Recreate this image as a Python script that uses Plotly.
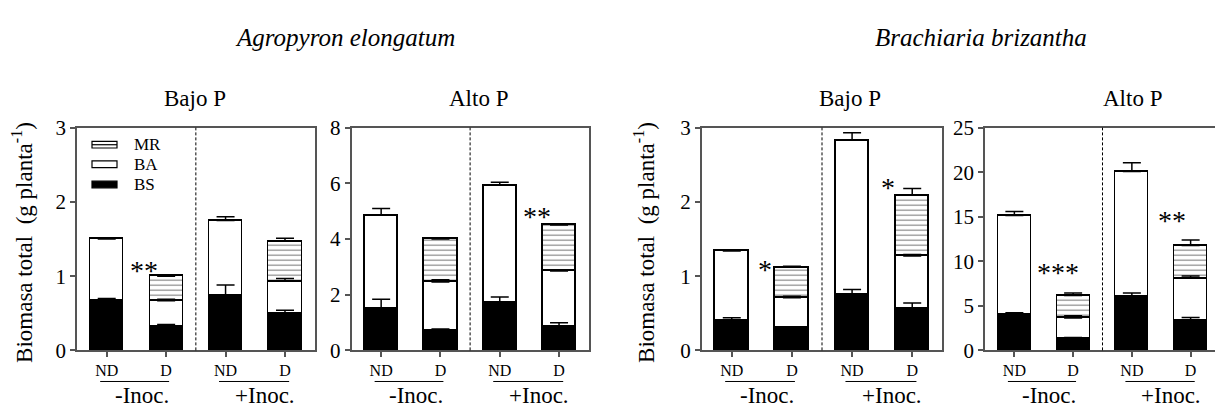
import numpy as np
import plotly.graph_objects as go

W, H = 1215, 418
FONT = "Times New Roman, Liberation Serif, DejaVu Serif, serif"

# Bar positions within each panel: ND / D for -Inoc. and +Inoc.
positions = [0, 1, 2, 3]
tick_labels = ["ND", "D", "ND", "D"]
inoc_labels = ["-Inoc.", "+Inoc."]
species_titles = ["Agropyron elongatum", "Brachiaria brizantha"]
panel_titles = ["Bajo P", "Alto P", "Bajo P", "Alto P"]

# Agropyron elongatum, Bajo P (g planta-1): BS, BA, MR segment means and SE
agro_bajo_bs = [0.67, 0.32, 0.74, 0.49]
agro_bajo_bs_se = [0.03, 0.03, 0.14, 0.05]
agro_bajo_ba = [0.83, 0.35, 1.01, 0.44]
agro_bajo_ba_se = [0.01, 0.02, 0.05, 0.04]
agro_bajo_mr = [None, 0.33, None, 0.54]
agro_bajo_mr_se = [None, 0.01, None, 0.04]

# Agropyron elongatum, Alto P
agro_alto_bs = [1.50, 0.70, 1.72, 0.86]
agro_alto_bs_se = [0.34, 0.07, 0.20, 0.13]
agro_alto_ba = [3.35, 1.76, 4.21, 1.99]
agro_alto_ba_se = [0.25, 0.08, 0.11, 0.05]
agro_alto_mr = [None, 1.54, None, 1.65]
agro_alto_mr_se = [None, 0.03, None, 0.04]

# Brachiaria brizantha, Bajo P
brach_bajo_bs = [0.40, 0.31, 0.75, 0.56]
brach_bajo_bs_se = [0.04, 0.005, 0.07, 0.08]
brach_bajo_ba = [0.94, 0.40, 2.08, 0.71]
brach_bajo_ba_se = [0.01, 0.02, 0.10, 0.02]
brach_bajo_mr = [None, 0.41, None, 0.82]
brach_bajo_mr_se = [None, 0.015, None, 0.09]

# Brachiaria brizantha, Alto P
brach_alto_bs = [3.98, 1.34, 5.99, 3.31]
brach_alto_bs_se = [0.25, 0.10, 0.45, 0.39]
brach_alto_ba = [11.16, 2.29, 14.08, 4.79]
brach_alto_ba_se = [0.46, 0.27, 0.99, 0.25]
brach_alto_mr = [None, 2.53, None, 3.66]
brach_alto_mr_se = [None, 0.28, None, 0.63]

# Significance marks: (panel, x position, y value, text)
sig_marks = [
    (0, 0.62, 1.17, "**"),
    (1, 2.62, 5.05, "**"),
    (2, 0.56, 1.18, "*"),
    (2, 2.60, 2.29, "*"),
    (3, 0.75, 9.5, "***"),
    (3, 2.69, 15.35, "**"),
]

panels = [
    (agro_bajo_bs, agro_bajo_bs_se, agro_bajo_ba, agro_bajo_ba_se, agro_bajo_mr, agro_bajo_mr_se),
    (agro_alto_bs, agro_alto_bs_se, agro_alto_ba, agro_alto_ba_se, agro_alto_mr, agro_alto_mr_se),
    (brach_bajo_bs, brach_bajo_bs_se, brach_bajo_ba, brach_bajo_ba_se, brach_bajo_mr, brach_bajo_mr_se),
    (brach_alto_bs, brach_alto_bs_se, brach_alto_ba, brach_alto_ba_se, brach_alto_mr, brach_alto_mr_se),
]
y_max = [3, 8, 3, 25]
y_dtick = [1, 2, 1, 5]

# Layout geometry in pixels
x_px = [(77, 314.7), (351.5, 588.7), (701.7, 942.3), (985, 1215)]
x_range_end = [3.5, 3.5, 3.5, 3.415]
plot_top, plot_bottom = 122.7, 359


def px(x):
    return x / W


def py(y):
    return 1 - y / H


def to_arr(v):
    return np.array([np.nan if a is None else a for a in v], dtype=float)


fig = go.Figure()
LINE = "#555555"

for i, (bs, bs_se, ba, ba_se, mr, mr_se) in enumerate(panels):
    xa = "x" if i == 0 else f"x{i + 1}"
    ya = "y" if i == 0 else f"y{i + 1}"

    fig.add_trace(go.Bar(x=positions, y=bs, width=0.56, xaxis=xa, yaxis=ya,
                         marker=dict(color="black", line=dict(color="black", width=1.5)),
                         showlegend=False, hoverinfo="skip"))
    fig.add_trace(go.Bar(x=positions, y=ba, width=0.56, xaxis=xa, yaxis=ya,
                         marker=dict(color="white", line=dict(color="black", width=1.5)),
                         showlegend=False, hoverinfo="skip"))
    fig.add_trace(go.Bar(x=positions, y=mr, width=0.56, xaxis=xa, yaxis=ya,
                         marker=dict(color="white", line=dict(color="black", width=1.5),
                                     pattern=dict(shape="-", fgcolor="black", bgcolor="white",
                                                  size=5, solidity=0.22)),
                         showlegend=False, hoverinfo="skip"))

    # upward error bars at the top of each stacked segment
    bs_a, ba_a, mr_a = to_arr(bs), to_arr(ba), to_arr(mr)
    tops = [bs_a, bs_a + ba_a, bs_a + ba_a + mr_a]
    errs = [to_arr(bs_se), to_arr(ba_se), to_arr(mr_se)]
    for top, err in zip(tops, errs):
        fig.add_trace(go.Scatter(
            x=positions, y=top, xaxis=xa, yaxis=ya, mode="markers",
            marker=dict(size=1, opacity=0), showlegend=False, hoverinfo="skip",
            error_y=dict(type="data", array=err, arrayminus=np.zeros(4), symmetric=False,
                         width=9, thickness=1.5, color="black")))

    x0, x1 = x_px[i]
    axis_common = dict(showline=True, linecolor=LINE, linewidth=1.5, showgrid=False,
                       zeroline=False, ticks="outside", tickcolor=LINE, tickwidth=1.5,
                       ticklen=5, fixedrange=True)
    fig.update_layout({
        ("xaxis" if i == 0 else f"xaxis{i + 1}"): dict(
            domain=[px(x0), px(x1)], range=[-0.5, x_range_end[i]], anchor=ya,
            tickvals=positions, ticktext=tick_labels, mirror=True,
            tickfont=dict(family=FONT, size=16, color="black"), **axis_common),
        ("yaxis" if i == 0 else f"yaxis{i + 1}"): dict(
            domain=[py(plot_bottom), py(plot_top)], range=[0, y_max[i]], dtick=y_dtick[i],
            anchor=xa, mirror=(i != 3),
            tickfont=dict(family=FONT, size=21, color="black"), **axis_common),
    })

    # dashed separator between -Inoc. and +Inoc.
    fig.add_shape(type="line", xref=xa, yref=f"{ya} domain", x0=1.5, x1=1.5, y0=0, y1=1,
                  line=dict(color="black", width=1, dash="3px,2px"))
    # group underlines and labels
    for (a, b), lab, lx in zip([(-0.11, 1.05), (1.89, 3.07)], inoc_labels, [0.59, 2.66]):
        fig.add_shape(type="line", xref=xa, yref="paper", x0=a, x1=b, y0=py(392), y1=py(392),
                      line=dict(color="black", width=1))
        fig.add_annotation(xref=xa, yref="paper", x=lx, y=py(407), text=lab, showarrow=False,
                           font=dict(family=FONT, size=23, color="black"),
                           xanchor="center", yanchor="middle")

# panel titles
for x, t in zip([195, 478, 850, 1132], panel_titles):
    fig.add_annotation(xref="paper", yref="paper", x=px(x), y=py(92), text=t, showarrow=False,
                       xanchor="center", yanchor="middle",
                       font=dict(family=FONT, size=23, color="black"))
# species titles
for x, t in zip([345, 981], species_titles):
    fig.add_annotation(xref="paper", yref="paper", x=px(x), y=py(27), text=f"<i>{t}</i>",
                       showarrow=False, xanchor="center", yanchor="middle",
                       font=dict(family=FONT, size=25, color="black"))
# y-axis titles
for x in [23, 645]:
    fig.add_annotation(xref="paper", yref="paper", x=px(x), y=py(245), textangle=-90,
                       text="Biomasa total  (g planta<sup>-1</sup>)", showarrow=False,
                       xanchor="center", yanchor="middle",
                       font=dict(family=FONT, size=23, color="black"))

# significance marks
for p, x, y, t in sig_marks:
    xa = "x" if p == 0 else f"x{p + 1}"
    ya = "y" if p == 0 else f"y{p + 1}"
    fig.add_annotation(xref=xa, yref=ya, x=x, y=y, text=t, showarrow=False,
                       xanchor="center", yanchor="middle",
                       font=dict(family=FONT, size=28, color="black"), yshift=-7)

# legend (inside first panel)
legend_items = [("MR", 140.8), ("BA", 161.5), ("BS", 183.0)]
for name, yc in legend_items:
    fill = "black" if name == "BS" else "white"
    fig.add_shape(type="rect", xref="paper", yref="paper", x0=px(92), x1=px(117),
                  y0=py(yc + 3.5), y1=py(yc - 3.5), fillcolor=fill,
                  line=dict(color="black", width=1.2))
    if name == "MR":
        fig.add_shape(type="line", xref="paper", yref="paper", x0=px(92), x1=px(117),
                      y0=py(yc), y1=py(yc), line=dict(color="black", width=1.2))
    fig.add_annotation(xref="paper", yref="paper", x=px(132), y=py(yc), text=name,
                       showarrow=False, xanchor="left", yanchor="middle",
                       font=dict(family=FONT, size=17, color="black"))

fig.update_layout(width=W, height=H, margin=dict(l=0, r=0, t=0, b=0),
                  paper_bgcolor="white", plot_bgcolor="white", barmode="stack",
                  showlegend=False, bargap=0, font=dict(family=FONT))

fig.write_html("out.html")
